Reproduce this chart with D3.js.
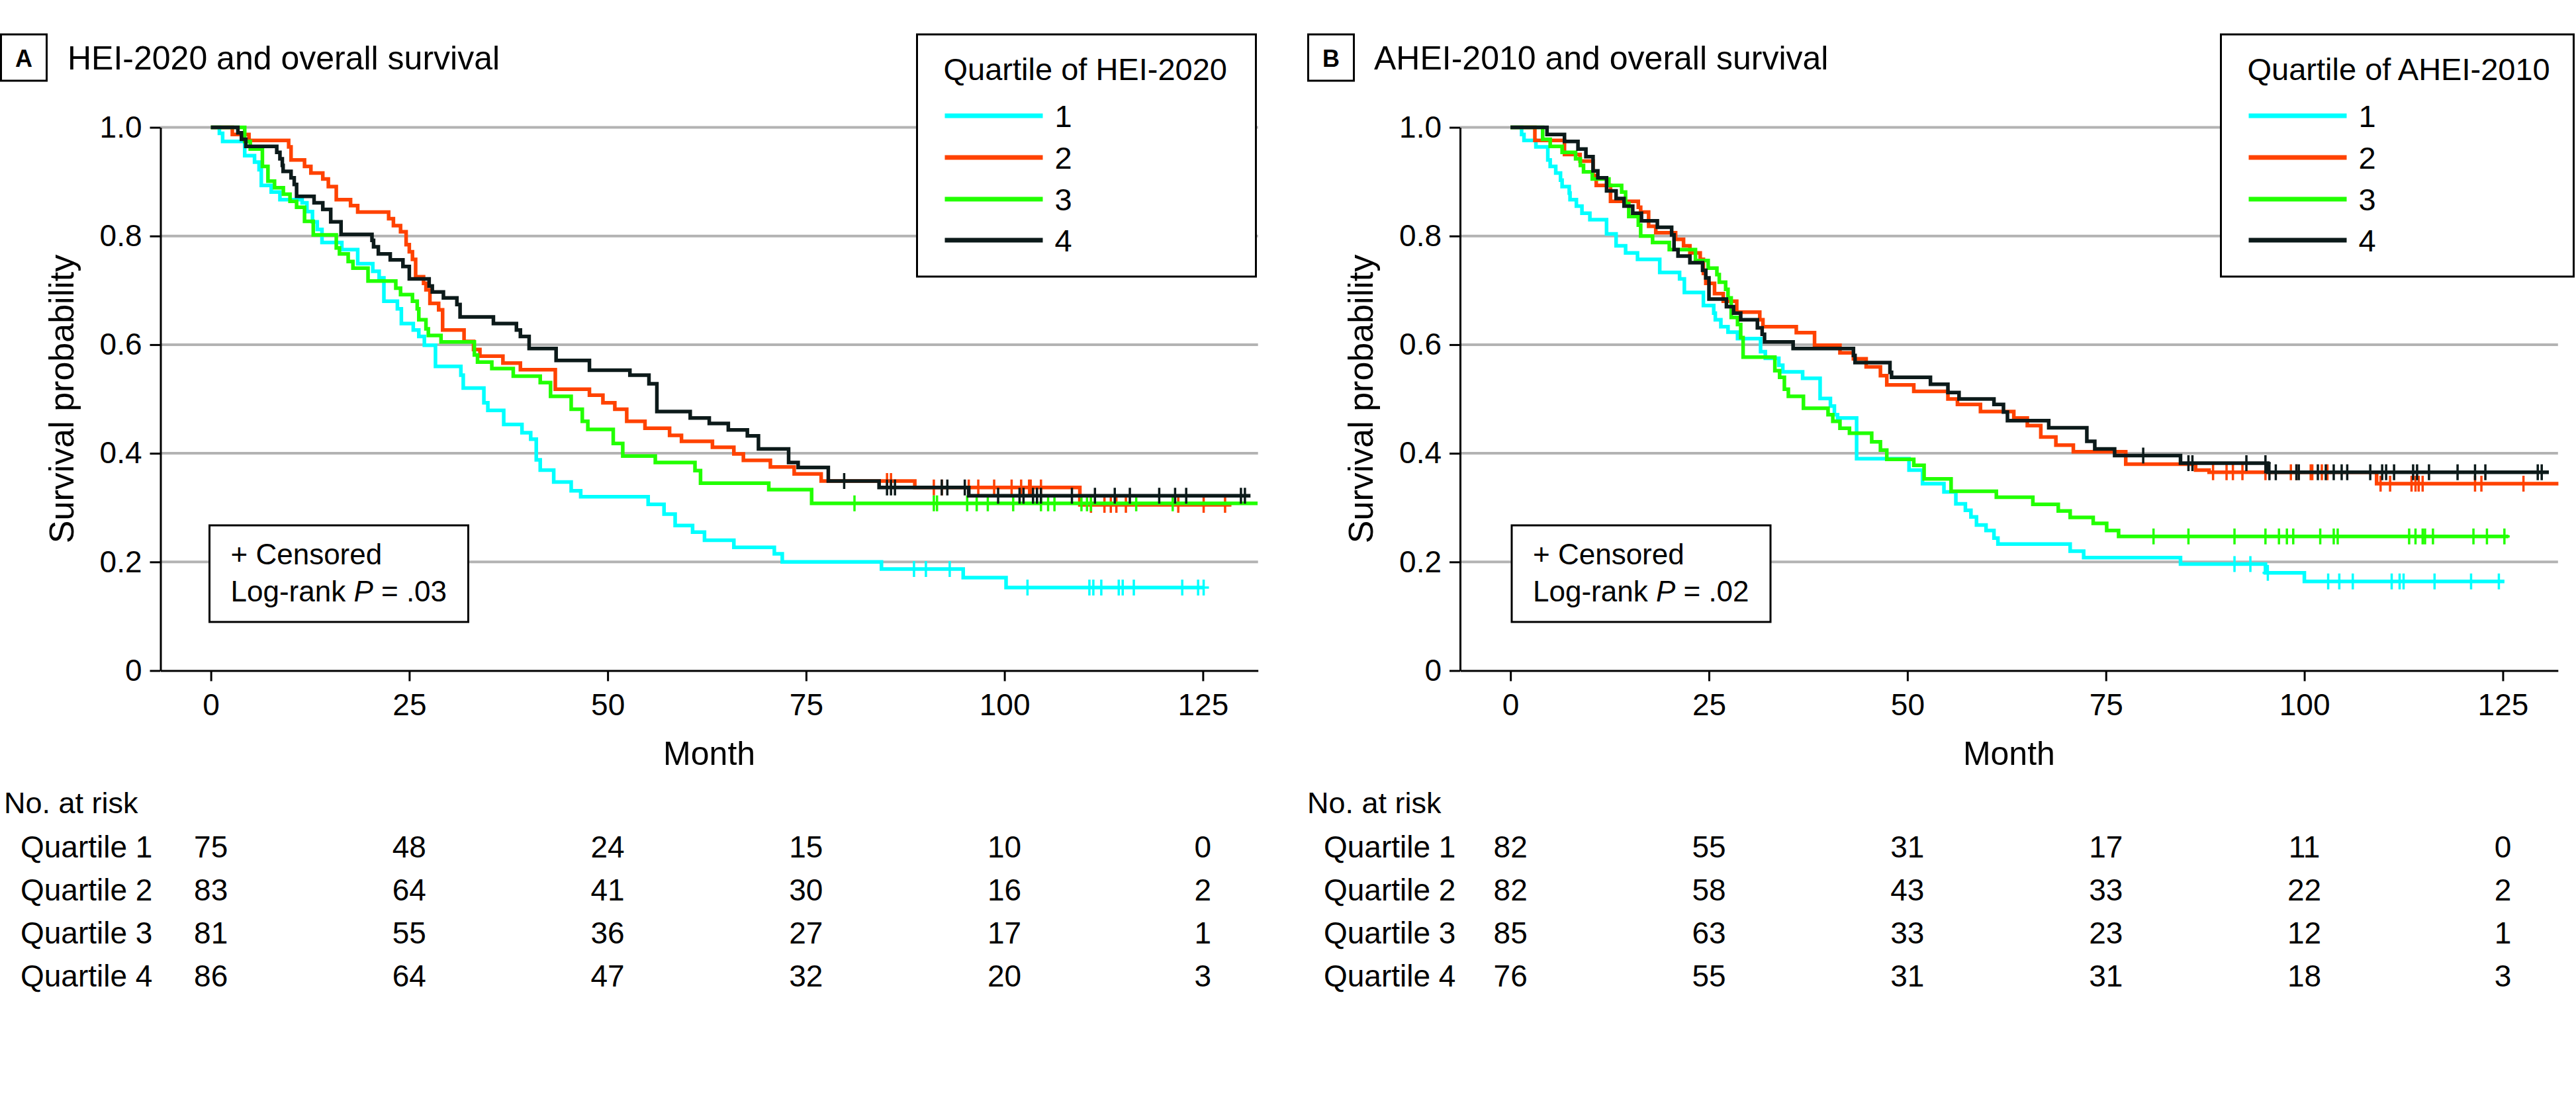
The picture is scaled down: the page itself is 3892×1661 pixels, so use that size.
<!DOCTYPE html>
<html><head><meta charset="utf-8">
<script src="https://cdn.jsdelivr.net/npm/d3@7"></script>
<style>
body{margin:0;background:#fff}
text{font-family:"Liberation Sans",Arial,sans-serif;fill:#000}
</style>
</head><body><svg id="c" width="3892" height="1661"></svg>
<script>
// ---------- shared ----------
const monthTicks = [0, 25, 50, 75, 100, 125];
const survTicks = [0, 0.2, 0.4, 0.6, 0.8, 1.0];
const survTickLabels = ["0", "0.2", "0.4", "0.6", "0.8", "1.0"];
const quartileNames = ["1", "2", "3", "4"];
const rowLabels = ["Quartile 1", "Quartile 2", "Quartile 3", "Quartile 4"];
const colors = ["#00FFFF", "#FF4200", "#22FF00", "#0C1A1A"];

// ---------- Panel A: HEI-2020 ----------
const heiQ1 = [[0,1],[1.07,0.989],[1.48,0.974],[4.26,0.948],[5.5,0.936],[6.07,0.922],[6.35,0.893],[7.6,0.881],[8.7,0.867],[11.5,0.861],[12.1,0.845],[12.8,0.826],[13.4,0.812],[14.0,0.788],[16.5,0.775],[18.5,0.749],[20.4,0.735],[21.2,0.723],[21.8,0.680],[23.5,0.666],[24.0,0.639],[25.5,0.627],[26.2,0.615],[26.9,0.599],[28.3,0.560],[31.5,0.544],[31.8,0.520],[34.4,0.493],[34.9,0.479],[36.9,0.453],[39.2,0.438],[40.3,0.426],[41.0,0.388],[41.5,0.369],[43.2,0.347],[45.4,0.331],[46.6,0.320],[55.1,0.306],[57.1,0.288],[58.5,0.267],[60.7,0.255],[62.2,0.240],[65.9,0.227],[71.0,0.215],[72.0,0.200],[84.5,0.187],[94.8,0.171],[100.2,0.153]];
const heiQ2 = [[0,1],[2.7,0.987],[4.8,0.976],[9.8,0.964],[10.1,0.940],[11.8,0.928],[12.6,0.916],[14.1,0.905],[14.8,0.891],[15.8,0.867],[17.6,0.856],[18.5,0.844],[22.4,0.832],[23.0,0.819],[23.9,0.808],[24.6,0.784],[25.0,0.771],[25.4,0.757],[25.8,0.725],[26.8,0.713],[27.1,0.701],[27.6,0.676],[28.7,0.664],[29.2,0.627],[31.9,0.606],[33.1,0.591],[33.9,0.579],[36.8,0.566],[39.0,0.554],[43.4,0.518],[47.7,0.507],[49.4,0.493],[50.9,0.481],[52.4,0.459],[54.7,0.446],[57.8,0.433],[59.3,0.422],[63.2,0.411],[65.9,0.399],[67.1,0.387],[70.5,0.375],[73.5,0.362],[76.9,0.349],[88.7,0.337],[109.5,0.305]];
const heiQ3 = [[0,1],[4.26,0.974],[4.96,0.960],[6.49,0.928],[7.19,0.901],[8.02,0.889],[9.13,0.877],[9.97,0.864],[10.8,0.853],[11.8,0.827],[12.9,0.802],[15.8,0.778],[16.2,0.767],[17.3,0.753],[17.9,0.741],[19.8,0.717],[23.3,0.704],[23.9,0.692],[25.4,0.680],[26.0,0.666],[26.2,0.646],[27.1,0.629],[27.4,0.617],[29.0,0.605],[33.2,0.581],[33.6,0.568],[35.4,0.556],[38.1,0.542],[41.5,0.530],[42.8,0.505],[45.4,0.481],[46.8,0.459],[47.5,0.444],[50.7,0.418],[51.9,0.395],[56.0,0.383],[61.0,0.368],[61.7,0.345],[70.3,0.333],[75.7,0.308]];
const heiQ4 = [[0,1],[3.4,0.990],[3.85,0.978],[4.4,0.965],[8.3,0.954],[8.7,0.942],[9.0,0.930],[9.1,0.919],[10.1,0.907],[10.5,0.895],[10.8,0.873],[13.0,0.861],[14.1,0.849],[15.1,0.826],[16.4,0.803],[20.3,0.792],[20.5,0.780],[21.1,0.767],[22.6,0.756],[24.2,0.744],[25.0,0.721],[27.5,0.708],[27.9,0.697],[29.3,0.686],[31.0,0.674],[31.4,0.651],[35.6,0.639],[38.5,0.627],[39.0,0.615],[40.1,0.593],[43.5,0.571],[47.7,0.553],[52.8,0.544],[55.2,0.528],[56.2,0.477],[60.4,0.465],[62.8,0.455],[65.2,0.443],[67.6,0.432],[69.0,0.408],[72.8,0.383],[74.0,0.374],[77.8,0.349],[84.2,0.337],[95.5,0.322]];
const heiEnd = [125.1, 128.6, 131.9, 131.0];
const heiCensQ1 = [88.6,90.1,93.1,102.9,110.7,111.2,112.2,114.4,114.9,116.3,122.4,124.4,125.1];
const heiCensQ2 = [85.2,85.7,91.1,92.1,95.5,96.7,98.7,100.9,102.1,103.1,103.3,104.6,110.9,112.6,113.4,114.1,115.3,121.9,125.1,127.8];
const heiCensQ3 = [81.1,91.1,91.5,95.3,96.5,97.9,101.1,104.6,105.5,106.3,109.7,110.4,110.9,116.6,121.2];
const heiCensQ4 = [79.8,85.2,85.7,86.2,92.1,92.8,95.0,99.2,101.9,102.4,103.6,104.1,104.6,108.5,111.4,113.9,115.8,119.5,121.5,122.9,129.8,130.3];
const heiRiskQ1 = [75, 48, 24, 15, 10, 0];
const heiRiskQ2 = [83, 64, 41, 30, 16, 2];
const heiRiskQ3 = [81, 55, 36, 27, 17, 1];
const heiRiskQ4 = [86, 64, 47, 32, 20, 3];

// ---------- Panel B: AHEI-2010 ----------
const aheiQ1 = [[0,1],[1.4,0.987],[1.7,0.976],[3.2,0.964],[4.7,0.940],[5.0,0.928],[5.7,0.916],[6.3,0.903],[6.5,0.891],[7.4,0.879],[7.5,0.867],[8.3,0.855],[9.0,0.842],[10.0,0.830],[12.1,0.804],[13.3,0.782],[14.5,0.769],[16.0,0.757],[18.8,0.733],[21.3,0.721],[21.9,0.696],[24.3,0.672],[25.6,0.658],[25.8,0.646],[26.5,0.633],[27.4,0.623],[28.6,0.611],[31.5,0.587],[32.1,0.575],[33.8,0.562],[34.3,0.550],[36.8,0.538],[39.0,0.501],[40.3,0.487],[40.8,0.471],[41.2,0.465],[43.6,0.390],[50.2,0.369],[51.9,0.344],[54.6,0.329],[56.1,0.307],[57.3,0.295],[58.0,0.283],[58.7,0.268],[59.9,0.258],[60.9,0.244],[61.4,0.233],[70.5,0.220],[72.2,0.208],[84.4,0.196],[95.1,0.180],[100.0,0.164]];
const aheiQ2 = [[0,1],[3.07,0.976],[6.8,0.950],[8.76,0.938],[10.4,0.911],[10.8,0.893],[12.6,0.864],[16.1,0.853],[16.4,0.844],[17.4,0.818],[18.3,0.806],[20.8,0.794],[21.8,0.782],[22.6,0.769],[23.9,0.757],[24.3,0.731],[24.6,0.713],[25.7,0.694],[26.8,0.680],[28.5,0.660],[31.4,0.646],[31.8,0.633],[36.0,0.622],[38.3,0.599],[41.5,0.585],[43.2,0.574],[44.8,0.559],[46.6,0.543],[47.4,0.526],[50.8,0.514],[55.1,0.500],[56.3,0.490],[59.2,0.477],[63.4,0.465],[65.1,0.451],[66.8,0.430],[68.7,0.415],[70.9,0.403],[77.5,0.380],[86.3,0.369],[88.0,0.365],[109.1,0.344]];
const aheiQ3 = [[0,1],[4.05,0.978],[5.0,0.965],[6.5,0.954],[8.2,0.942],[8.8,0.930],[9.2,0.918],[10.3,0.905],[12.4,0.893],[14.0,0.881],[14.5,0.860],[14.9,0.836],[16.1,0.820],[16.4,0.800],[17.9,0.788],[20.0,0.775],[23.3,0.755],[24.9,0.741],[26.0,0.729],[26.3,0.715],[27.1,0.702],[27.4,0.686],[27.8,0.650],[28.6,0.637],[29.0,0.613],[29.3,0.577],[33.3,0.552],[33.9,0.540],[34.5,0.518],[35.0,0.505],[36.9,0.483],[40.0,0.471],[40.6,0.459],[41.5,0.446],[42.7,0.437],[45.5,0.421],[46.6,0.406],[47.4,0.389],[50.8,0.378],[52.1,0.353],[55.5,0.330],[61.2,0.319],[65.8,0.306],[69.0,0.294],[70.5,0.282],[73.4,0.271],[75.1,0.258],[76.6,0.247]];
const aheiQ4 = [[0,1],[4.6,0.987],[6.8,0.974],[8.5,0.960],[9.5,0.946],[10.4,0.920],[11.0,0.907],[12.1,0.883],[13.3,0.869],[14.3,0.855],[15.4,0.842],[16.5,0.828],[18.5,0.816],[20.3,0.802],[20.6,0.775],[21.1,0.763],[22.6,0.751],[24.2,0.737],[24.6,0.723],[25.0,0.684],[27.2,0.670],[28.1,0.658],[29.0,0.646],[31.1,0.631],[31.7,0.619],[32.0,0.605],[35.6,0.593],[43.2,0.580],[43.4,0.567],[47.8,0.549],[48.0,0.540],[52.9,0.527],[55.1,0.512],[56.5,0.500],[60.9,0.490],[62.1,0.476],[62.6,0.460],[67.8,0.447],[72.6,0.422],[73.6,0.408],[76.1,0.396],[84.4,0.382],[95.4,0.365]];
const aheiEnd = [125.2, 132.0, 125.7, 130.8];
const aheiCensQ1 = [91.2,93.2,95.4,103.0,104.4,106.1,111.0,112.0,112.5,116.4,121.0,124.5];
const aheiCensQ2 = [88.5,90.2,91.0,92.2,95.1,98.3,99.0,100.8,101.0,102.2,102.9,109.6,110.8,113.5,114.0,114.4,114.9,121.5,122.3,127.6];
const aheiCensQ3 = [81.0,85.4,91.2,95.1,96.8,97.8,98.6,102.0,103.7,104.2,113.2,114.0,114.9,115.2,116.2,121.3,123.0,125.2];
const aheiCensQ4 = [79.7,85.4,85.9,92.7,95.1,95.6,96.4,99.0,99.3,101.7,102.7,103.7,104.7,105.4,108.3,109.8,110.3,111.3,113.7,114.2,115.7,119.3,121.5,122.8,129.4,129.9];
const aheiRiskQ1 = [82, 55, 31, 17, 11, 0];
const aheiRiskQ2 = [82, 58, 43, 33, 22, 2];
const aheiRiskQ3 = [85, 63, 33, 23, 12, 1];
const aheiRiskQ4 = [76, 55, 31, 31, 18, 3];

// ---------- drawing ----------
const svg = d3.select("#c");
svg.append("rect").attr("width", 3892).attr("height", 1661).attr("fill", "#fff");

function survAt(steps, t) {
  let v = 1;
  for (const s of steps) { if (s[0] <= t + 1e-9) v = s[1]; else break; }
  return v;
}

function drawPanel(p) {
  const g = svg.append("g");
  const x = d3.scaleLinear().domain([-6.35, 131.95]).range([p.left, p.right]);
  const y = d3.scaleLinear().domain([0, 1]).range([1013.5, 192.5]);

  // panel letter + title
  g.append("rect").attr("x", p.boxX + 1.5).attr("y", 52).attr("width", 69).attr("height", 70)
    .attr("fill", "none").attr("stroke", "#000").attr("stroke-width", 3);
  g.append("text").attr("x", p.boxX + 36).attr("y", 101).attr("text-anchor", "middle")
    .attr("font-size", 36).attr("font-weight", "bold").text(p.letter);
  g.append("text").attr("x", p.titleX).attr("y", 105).attr("font-size", 50).text(p.title);

  // grid
  g.append("g").selectAll("line").data(survTicks.filter(d => d > 0)).join("line")
    .attr("x1", p.left).attr("x2", p.right).attr("y1", d => y(d)).attr("y2", d => y(d))
    .attr("stroke", "#b3b3b3").attr("stroke-width", 4);

  // axes
  const ax = g.append("g").attr("transform", `translate(0,${y(0)})`)
    .call(d3.axisBottom(x).tickValues(monthTicks).tickSize(16).tickSizeOuter(0).tickPadding(19));
  const ay = g.append("g").attr("transform", `translate(${p.left},0)`)
    .call(d3.axisLeft(y).tickValues(survTicks).tickFormat((d, i) => survTickLabels[i])
      .tickSize(16).tickSizeOuter(0).tickPadding(12));
  [ax, ay].forEach(a => {
    a.select(".domain").attr("stroke", "#000").attr("stroke-width", 3);
    a.selectAll(".tick line").attr("stroke", "#000").attr("stroke-width", 3);
    a.selectAll(".tick text").attr("font-size", 46).attr("font-family", '"Liberation Sans",Arial,sans-serif').attr("fill", "#000");
  });

  g.append("text").attr("x", (p.left + p.right) / 2).attr("y", 1156).attr("text-anchor", "middle")
    .attr("font-size", 50).text("Month");
  g.append("text").attr("transform", `translate(${p.left - 132},${(y(0) + y(1)) / 2}) rotate(-90)`)
    .attr("text-anchor", "middle").attr("font-size", 52).text("Survival probability");

  // curves
  const line = d3.line().x(d => x(d[0])).y(d => y(d[1])).curve(d3.curveStepAfter);
  p.series.forEach((s, i) => {
    const pts = s.concat([[p.ends[i], s[s.length - 1][1]]]);
    g.append("path").attr("d", line(pts)).attr("fill", "none")
      .attr("stroke", colors[i]).attr("stroke-width", 5.5);
    g.append("g").selectAll("path").data(p.cens[i]).join("path")
      .attr("d", t => { const cx = x(t), cy = y(survAt(s, t)); return `M${cx - 8},${cy}H${cx + 8}M${cx},${cy - 12}V${cy + 12}`; })
      .attr("stroke", colors[i]).attr("stroke-width", 3.5).attr("fill", "none");
  });

  // censored / log-rank box
  g.append("rect").attr("x", p.cBoxX).attr("y", 794).attr("width", 391).attr("height", 146)
    .attr("fill", "#fff").attr("stroke", "#000").attr("stroke-width", 3);
  g.append("text").attr("x", p.cBoxX + 32).attr("y", 853).attr("font-size", 44).text("+ Censored");
  const lr = g.append("text").attr("x", p.cBoxX + 32).attr("y", 909).attr("font-size", 44);
  lr.append("tspan").text("Log-rank ");
  lr.append("tspan").attr("font-style", "italic").text("P");
  lr.append("tspan").text(" = " + p.pval);

  // legend
  g.append("rect").attr("x", p.legX).attr("y", 52).attr("width", p.legW).attr("height", 366)
    .attr("fill", "#fff").attr("stroke", "#000").attr("stroke-width", 3);
  g.append("text").attr("x", p.legX + 40).attr("y", 121).attr("font-size", 47).text(p.legTitle);
  const legY = [175, 238, 301, 363];
  quartileNames.forEach((q, i) => {
    g.append("line").attr("x1", p.legX + 42).attr("x2", p.legX + 190).attr("y1", legY[i]).attr("y2", legY[i])
      .attr("stroke", colors[i]).attr("stroke-width", 7);
    g.append("text").attr("x", p.legX + 208).attr("y", legY[i] + 17).attr("font-size", 47).text(q);
  });

  // risk table
  g.append("text").attr("x", p.riskX).attr("y", 1229).attr("font-size", 45).text("No. at risk");
  const rowY = [1296, 1361, 1426, 1491];
  p.risk.forEach((r, i) => {
    g.append("text").attr("x", p.riskX + 25).attr("y", rowY[i]).attr("font-size", 46).text(rowLabels[i]);
    g.append("g").selectAll("text").data(r).join("text")
      .attr("x", (d, j) => x(monthTicks[j])).attr("y", rowY[i]).attr("text-anchor", "middle")
      .attr("font-size", 46).text(d => d);
  });
}

drawPanel({
  letter: "A", title: "HEI-2020 and overall survival", boxX: 0, titleX: 102,
  left: 242.5, right: 1900.7, cBoxX: 316.5, pval: ".03",
  legX: 1385.5, legW: 512, legTitle: "Quartile of HEI-2020", riskX: 6,
  series: [heiQ1, heiQ2, heiQ3, heiQ4], ends: heiEnd,
  cens: [heiCensQ1, heiCensQ2, heiCensQ3, heiCensQ4],
  risk: [heiRiskQ1, heiRiskQ2, heiRiskQ3, heiRiskQ4]
});
drawPanel({
  letter: "B", title: "AHEI-2010 and overall survival", boxX: 1975, titleX: 2076,
  left: 2206, right: 3864.8, cBoxX: 2284, pval: ".02",
  legX: 3355.5, legW: 533, legTitle: "Quartile of AHEI-2010", riskX: 1975,
  series: [aheiQ1, aheiQ2, aheiQ3, aheiQ4], ends: aheiEnd,
  cens: [aheiCensQ1, aheiCensQ2, aheiCensQ3, aheiCensQ4],
  risk: [aheiRiskQ1, aheiRiskQ2, aheiRiskQ3, aheiRiskQ4]
});
</script>
</body></html>
